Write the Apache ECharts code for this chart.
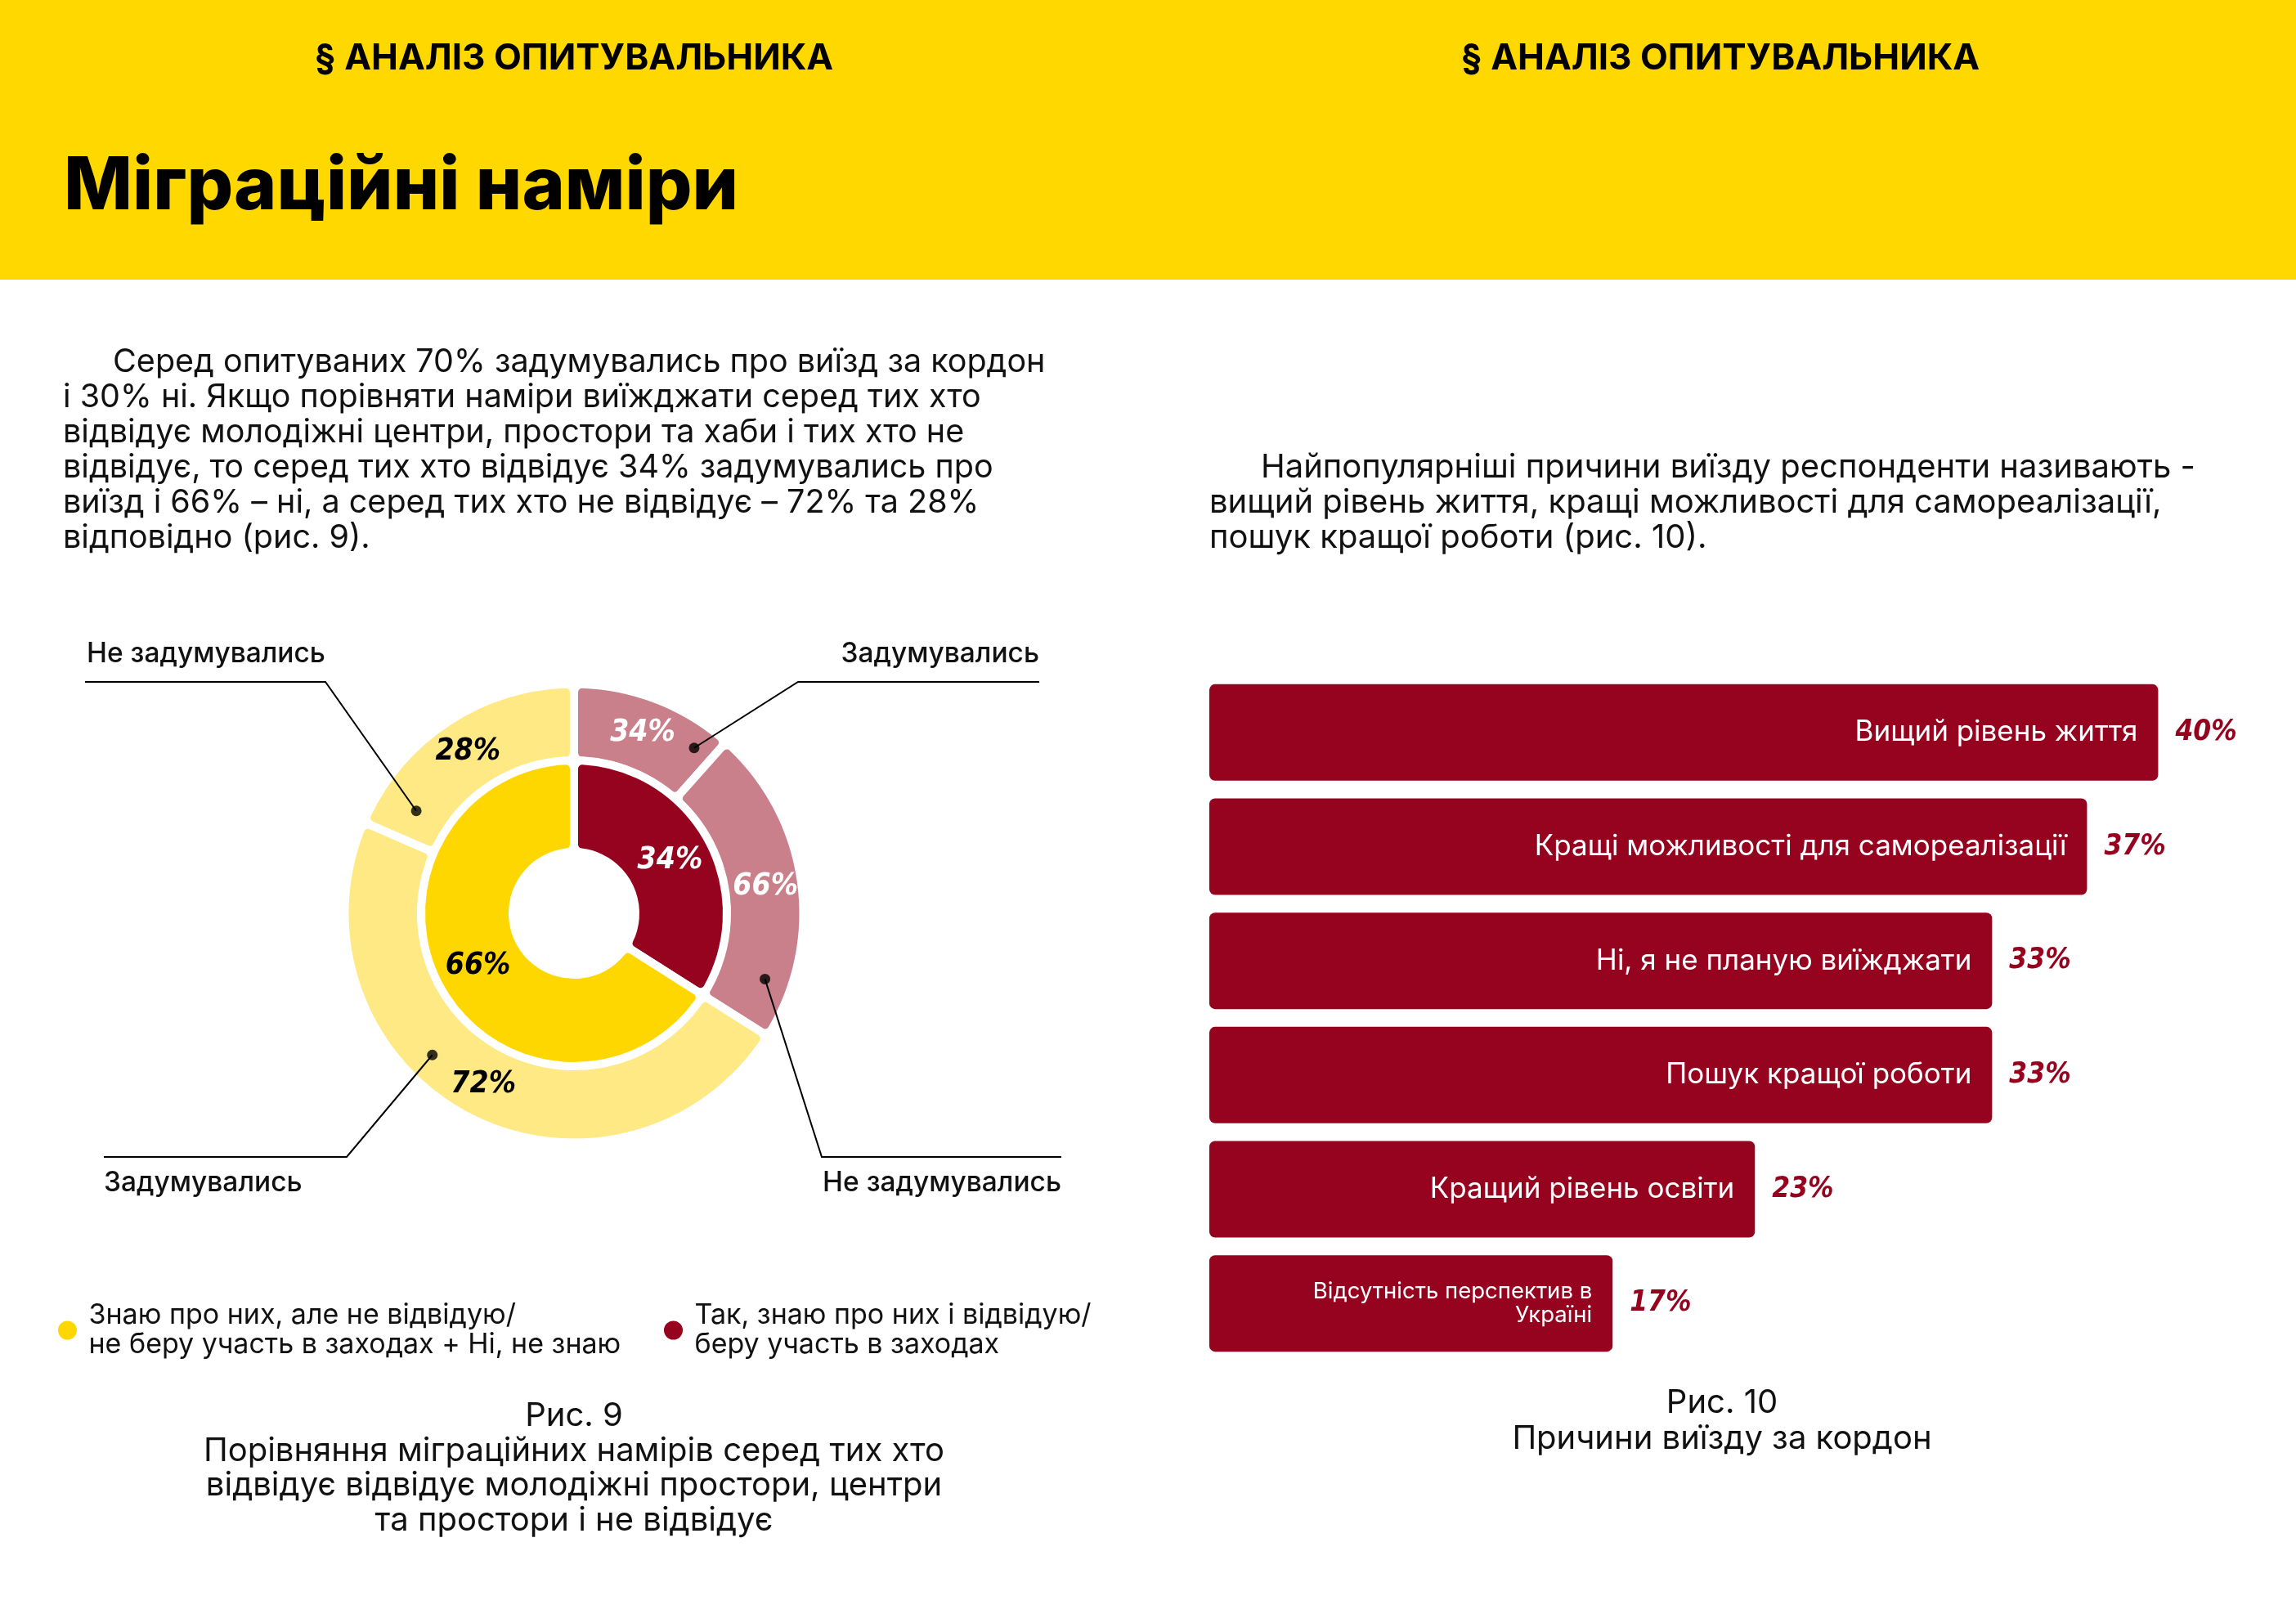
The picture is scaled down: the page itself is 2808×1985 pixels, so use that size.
<!DOCTYPE html>
<html><head><meta charset="utf-8">
<script src="https://cdn.jsdelivr.net/npm/echarts@6/dist/echarts.min.js"></script>
<style>html,body{margin:0;padding:0;background:#fff}#c{width:2808px;height:1985px}</style>
</head><body><div id="c"></div>
<script>
// ---------- DATA ----------
const innerNames = ['Так, знаю про них і відвідую/\nберу участь в заходах', 'Знаю про них, але не відвідую/\nне беру участь в заходах + Ні, не знаю'];
const innerValues = [34, 66];
const outerNames = ['Задумувались', 'Не задумувались', 'Задумувались', 'Не задумувались'];
const outerShares = [34, 66, 72, 28];      // % inside each inner group
const outerGroup = [0, 0, 1, 1];           // which inner group each outer slice belongs to
const barCategories = ['Вищий рівень життя', 'Кращі можливості для самореалізації', 'Ні, я не планую виїжджати', 'Пошук кращої роботи', 'Кращий рівень освіти', 'Відсутність перспектив в\nУкраїні'];
const barValues = [40, 37, 33, 33, 23, 17];

// ---------- STYLE / LAYOUT ----------
const FONT = 'Inter, "Noto Sans", sans-serif';
const HAND = '"DejaVu Sans Condensed", "DejaVu Sans", sans-serif';
const C_RED = '#96031E', C_PINK = '#C9808A', C_YEL = '#FFD700', C_LYEL = '#FEE984', C_HEAD = '#FFD800';
const innerColors = [C_RED, C_YEL];
const outerColors = [C_PINK, C_PINK, C_LYEL, C_LYEL];
const innerLabelColors = ['#fff', '#000'];
const outerLabelColors = ['#fff', '#fff', '#000', '#000'];
const CX = 702, CY = 1117, R_OUT = 275.5;
// annotation leader lines: dot (angle deg clockwise from top, radius px), elbow, end, label anchor
const annot = [
  {ang: 36,  r: 250, elbow: [976, 834],  end: [1271, 834],  lab: [1271, 800],  align: 'right'},
  {ang: 109, r: 247, elbow: [1005, 1415], end: [1298, 1415], lab: [1298, 1447], align: 'right'},
  {ang: 225, r: 245, elbow: [424, 1415], end: [127, 1415],  lab: [127, 1447],  align: 'left'},
  {ang: 303, r: 230, elbow: [398, 834],  end: [104, 834],   lab: [106, 800],   align: 'left'}
];
function dotXY(a) {
  const t = a.ang * Math.PI / 180;
  return [CX + a.r * Math.sin(t), CY - a.r * Math.cos(t)];
}

const outerData = outerNames.map((n, i) => ({
  name: n, value: innerValues[outerGroup[i]] * outerShares[i] / 100,
  itemStyle: {color: outerColors[i]},
  label: {color: outerLabelColors[i]}
}));
const innerData = innerNames.map((n, i) => ({
  name: n, value: innerValues[i], itemStyle: {color: innerColors[i]},
  label: {color: innerLabelColors[i]}
}));

const leftPara = [
  'Серед опитуваних 70% задумувались про виїзд за кордон',
  'і 30% ні. Якщо порівняти наміри виїжджати серед тих хто',
  'відвідує молодіжні центри, простори та хаби і тих хто не',
  'відвідує, то серед тих хто відвідує 34% задумувались про',
  'виїзд і 66% – ні, а серед тих хто не відвідує – 72% та 28%',
  'відповідно (рис. 9).'
];
const rightPara = [
  'Найпопулярніші причини виїзду респонденти називають -',
  'вищий рівень життя, кращі можливості для самореалізації,',
  'пошук кращої роботи (рис. 10).'
];
const cap9 = ['Рис. 9', 'Порівняння міграційних намірів серед тих хто', 'відвідує відвідує молодіжні простори, центри', 'та простори і не відвідує'];
const cap10 = ['Рис. 10', 'Причини виїзду за кордон'];

const graphics = [
  {type: 'rect', shape: {x: 0, y: 0, width: 2808, height: 342}, style: {fill: C_HEAD}, z: -10},
  {type: 'text', x: 702, y: 72, style: {text: '§ АНАЛІЗ ОПИТУВАЛЬНИКА', font: '700 44px ' + FONT, fill: '#000', textAlign: 'center', textVerticalAlign: 'middle'}},
  {type: 'text', x: 2104, y: 72, style: {text: '§ АНАЛІЗ ОПИТУВАЛЬНИКА', font: '700 44px ' + FONT, fill: '#000', textAlign: 'center', textVerticalAlign: 'middle'}},
  {type: 'text', x: 78, y: 229, style: {text: 'Міграційні наміри', font: '800 89px ' + FONT, fill: '#000', textAlign: 'left', textVerticalAlign: 'middle'}}
];
leftPara.forEach((t, i) => graphics.push({type: 'text', x: i === 0 ? 138 : 77, y: 443 + i * 43,
  style: {text: t, font: '400 39.5px ' + FONT, fill: '#111', textAlign: 'left', textVerticalAlign: 'middle'}}));
rightPara.forEach((t, i) => graphics.push({type: 'text', x: i === 0 ? 1542 : 1479, y: 572 + i * 43,
  style: {text: t, font: '400 40px ' + FONT, fill: '#111', textAlign: 'left', textVerticalAlign: 'middle'}}));
cap9.forEach((t, i) => graphics.push({type: 'text', x: 702, y: 1732 + i * 42.5,
  style: {text: t, font: '400 40px ' + FONT, fill: '#111', textAlign: 'center', textVerticalAlign: 'middle'}}));
cap10.forEach((t, i) => graphics.push({type: 'text', x: 2106, y: 1716 + i * 44,
  style: {text: t, font: '400 40px ' + FONT, fill: '#111', textAlign: 'center', textVerticalAlign: 'middle'}}));

const legendText = {fontFamily: FONT, fontSize: 34, color: '#111', lineHeight: 36, padding: [0, 0, 0, 8]};
const chart = echarts.init(document.getElementById('c'), null, {renderer: 'canvas'});
chart.setOption({
  backgroundColor: '#fff',
  animation: false,
  graphic: graphics,
  legend: [
    {left: 64, top: 1586, orient: 'horizontal', icon: 'circle', itemWidth: 26, itemHeight: 25, itemGap: 20,
     data: [innerNames[1]], textStyle: legendText, selectedMode: false},
    {left: 805, top: 1586, orient: 'horizontal', icon: 'circle', itemWidth: 26, itemHeight: 25, itemGap: 20,
     data: [innerNames[0]], textStyle: legendText, selectedMode: false}
  ],
  polar: {center: [CX, CY], radius: R_OUT},
  angleAxis: {type: 'value', min: 0, max: 360, startAngle: 90, clockwise: true, show: false},
  radiusAxis: {type: 'value', min: 0, max: R_OUT, show: false},
  grid: {left: 1479, right: 23.5, top: 826, bottom: 321, containLabel: false},
  xAxis: {type: 'value', min: 0, max: 45, show: false},
  yAxis: {type: 'category', data: barCategories, inverse: true, show: false},
  series: [
    {
      type: 'pie', name: 'outer', center: [CX, CY], radius: [186.5, 280.5], startAngle: 90, clockwise: true,
      silent: true, avoidLabelOverlap: false,
      itemStyle: {borderColor: '#fff', borderWidth: 10, borderRadius: 10},
      label: {show: true, position: 'inside', fontFamily: HAND, fontWeight: 'bold', fontStyle: 'italic', fontSize: 37,
        formatter: p => outerShares[p.dataIndex] + '%'},
      labelLine: {show: false},
      data: outerData, z: 2
    },
    {
      type: 'pie', name: 'inner', center: [CX, CY], radius: [75, 187], startAngle: 90, clockwise: true,
      silent: true, avoidLabelOverlap: false,
      itemStyle: {borderColor: '#fff', borderWidth: 10, borderRadius: 10},
      label: {show: true, position: 'inside', fontFamily: HAND, fontWeight: 'bold', fontStyle: 'italic', fontSize: 37,
        formatter: p => p.value + '%'},
      labelLine: {show: false},
      data: innerData, z: 3
    },
    {
      type: 'pie', name: 'annot', center: [CX, CY], radius: [186.5, 280.5], startAngle: 90, clockwise: true,
      silent: true, avoidLabelOverlap: false, z: 4,
      itemStyle: {color: 'transparent', borderWidth: 0},
      label: {show: true, position: 'outside', fontFamily: FONT, fontWeight: 500, fontSize: 33.5, color: '#111',
        formatter: p => p.name},
      labelLine: {show: true, lineStyle: {color: '#000', width: 2}},
      labelLayout: p => {
        const a = annot[p.dataIndex];
        return {x: a.lab[0], y: a.lab[1], align: a.align, verticalAlign: 'middle',
          labelLinePoints: [dotXY(a), a.elbow, a.end]};
      },
      data: outerNames.map((n, i) => ({name: n, value: outerData[i].value}))
    },
    {
      type: 'scatter', coordinateSystem: 'polar', symbol: 'circle', symbolSize: 13, silent: true, z: 5,
      itemStyle: {color: '#000'},
      data: annot.map(a => [a.r, a.ang])
    },
    {
      type: 'bar', name: 'bars', barWidth: 118, silent: true,
      data: barValues.map((v, i) => i === 5 ? {value: v, label: {fontSize: 27.5, lineHeight: 29}} : v),
      itemStyle: {color: C_RED, borderRadius: 7},
      label: {show: true, position: 'insideRight', distance: 25, color: '#fff', fontFamily: FONT, fontSize: 35,
        formatter: p => barCategories[p.dataIndex]}
    },
    {
      type: 'bar', name: 'vals', data: barValues, barWidth: 118, barGap: '-100%', silent: true,
      itemStyle: {color: 'transparent'},
      label: {show: true, position: 'right', distance: 21, color: C_RED, fontFamily: HAND, fontWeight: 'bold', fontStyle: 'italic', fontSize: 35,
        formatter: p => p.value + '%'}
    }
  ]
});
</script></body></html>
